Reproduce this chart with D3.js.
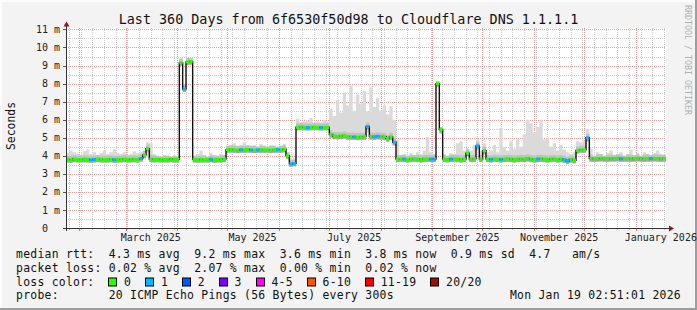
<!DOCTYPE html>
<html lang="en">
<head>
<meta charset="UTF-8">
<script src="https://cdn.jsdelivr.net/npm/d3@7"></script>
<title>smokeping</title>
<style>
  body { margin: 0; background: #f3f3f3; }
  svg text { font-family: "DejaVu Sans Mono", monospace; white-space: pre; }
</style>
</head>
<body>
<svg width="697" height="310"></svg>
<script>
// time window: last 360 days, one sample every 2 days
var startTime = new Date(Date.UTC(2025, 0, 24, 2, 51, 1));
var endTime = new Date(Date.UTC(2026, 0, 19, 2, 51, 1));
var stepDays = 2;

// median rtt (ms)
var median = [
  3.80,3.78,3.82,3.80,3.79,3.81,3.80,3.78,3.80,3.82,3.80,3.79,3.80,3.81,3.78,3.80,3.80,3.82,3.79,3.80,
  3.81,3.80,3.85,4.05,4.40,3.82,3.80,3.81,3.80,3.79,3.80,3.82,3.80,3.80,9.15,7.70,9.20,9.22,3.80,3.78,
  3.80,3.79,3.80,3.81,3.78,3.80,3.80,3.82,4.33,4.35,4.33,4.32,4.34,4.33,4.35,4.33,4.32,4.33,4.34,4.33,
  4.33,4.32,4.34,4.35,4.33,4.36,4.00,3.55,3.57,5.58,5.60,5.58,5.57,5.58,5.60,5.58,5.57,5.58,5.58,5.18,
  5.10,5.08,5.10,5.12,5.07,5.06,5.05,5.04,5.05,5.06,5.62,5.07,5.06,5.08,5.07,5.06,4.95,5.05,4.75,3.82,
  3.83,3.82,3.80,3.82,3.83,3.82,3.80,3.82,3.83,3.82,3.82,8.00,5.45,3.82,3.80,3.82,3.83,3.82,3.80,3.82,
  4.15,3.82,3.83,4.55,3.82,4.28,3.82,3.80,3.83,3.82,3.80,3.82,3.84,3.82,3.80,3.82,3.83,3.82,3.86,3.82,
  3.80,3.82,3.84,3.82,3.80,3.82,3.83,3.80,3.82,3.78,3.72,3.80,3.75,4.30,4.33,4.33,5.00,3.85,3.84,3.85,
  3.86,3.85,3.84,3.85,3.85,3.86,3.84,3.85,3.85,3.84,3.85,3.86,3.85,3.84,3.85,3.85,3.86,3.85,3.84,3.85
];

// highest ping of each step (ms)
var smokeHi = [
  4.15,4.30,4.20,4.10,4.05,4.25,4.35,4.10,4.20,4.05,4.15,4.30,4.10,4.20,4.35,4.15,4.10,4.20,4.05,4.10,
  4.25,4.15,4.20,4.30,4.75,4.70,4.10,4.00,3.95,4.05,4.00,3.95,4.00,3.98,9.40,7.95,9.42,9.42,4.00,4.10,
  4.30,4.05,3.95,4.15,4.05,4.00,4.10,4.05,4.55,4.60,4.70,4.55,4.60,4.75,4.60,4.55,4.60,4.50,4.65,4.55,
  4.50,4.60,4.55,4.50,4.55,4.65,4.20,3.85,3.85,6.05,5.85,5.90,5.95,6.10,5.85,5.90,5.85,6.00,5.90,6.60,
  6.20,7.10,6.40,7.50,6.80,7.90,6.50,7.40,6.90,7.60,6.46,7.80,6.70,7.20,6.50,6.80,6.30,6.75,6.00,4.90,
  4.05,4.10,4.00,4.15,4.05,4.20,4.10,4.30,5.05,4.20,4.10,8.15,5.60,4.10,4.00,4.15,4.10,4.70,4.80,4.30,
  4.40,4.30,4.60,4.90,4.30,4.70,4.20,4.30,4.60,4.20,5.55,4.50,4.30,4.80,4.40,4.90,4.50,5.20,6.00,5.80,
  5.30,5.60,6.00,4.90,5.00,4.50,4.70,4.30,4.60,4.35,4.20,4.10,4.20,4.80,4.75,4.85,5.50,4.40,4.00,4.20,
  4.10,4.00,4.15,4.30,4.05,4.10,4.20,4.00,4.10,4.35,4.05,4.15,4.00,4.20,4.10,4.05,4.15,4.30,4.10,4.05
];

// lowest ping of each step (ms)
var smokeLo = [
  3.62,3.60,3.63,3.62,3.61,3.62,3.63,3.60,3.62,3.63,3.62,3.61,3.62,3.63,3.60,3.62,3.62,3.63,3.61,3.62,
  3.63,3.62,3.65,3.80,3.90,3.64,3.62,3.63,3.62,3.61,3.62,3.63,3.62,3.62,8.95,7.55,9.00,9.02,3.62,3.60,
  3.62,3.61,3.62,3.63,3.60,3.62,3.62,3.63,4.15,4.16,4.15,4.14,4.15,4.15,4.16,4.15,4.14,4.15,4.15,4.15,
  4.14,4.14,4.15,4.16,4.15,4.17,3.80,3.40,3.42,5.40,5.42,5.40,5.39,5.40,5.42,5.40,5.39,5.40,5.40,5.00,
  4.90,4.89,4.90,4.92,4.88,4.87,4.86,4.85,4.86,4.87,5.30,4.88,4.87,4.89,4.88,4.87,4.78,4.86,4.55,3.64,
  3.64,3.63,3.62,3.64,3.64,3.63,3.62,3.63,3.64,3.63,3.63,7.80,5.20,3.63,3.62,3.64,3.64,3.63,3.62,3.63,
  3.95,3.63,3.64,4.30,3.63,4.05,3.63,3.62,3.64,3.63,3.62,3.63,3.65,3.63,3.62,3.63,3.64,3.63,3.66,3.63,
  3.62,3.63,3.65,3.63,3.62,3.63,3.64,3.62,3.63,3.58,3.52,3.60,3.56,4.12,4.15,4.15,4.75,3.66,3.65,3.66,
  3.67,3.66,3.65,3.66,3.66,3.67,3.65,3.66,3.66,3.65,3.66,3.67,3.66,3.65,3.66,3.66,3.67,3.66,3.65,3.66
];

// steps where 1 of 20 pings was lost
var lossSteps = [7, 8, 14, 22, 35, 43, 52, 55, 57, 63, 67, 68, 72, 76, 86, 90, 92, 93, 98,
                 101, 109, 110, 115, 123, 127, 130, 141, 149, 150, 156, 166, 175];

var lossLabels = ["0", "1", "2", "3", "4-5", "6-10", "11-19", "20/20"];
var lossColors = ["#26ff00", "#00b8ff", "#0059ff", "#7e00ff", "#ff00ff", "#ff5500", "#ff0000", "#a01000"];

var rttStats = [["4.3", "ms avg"], ["9.2", "ms max"], ["3.6", "ms min"], ["3.8", "ms now"], ["0.9", "ms sd"], ["4.7", "  am/s"]];
var lossStats = [["0.02", "% avg"], ["2.07", "% max"], ["0.00", "% min"], ["0.02", "% now"]];

var title = "Last 360 Days from 6f6530f50d98 to Cloudflare DNS 1.1.1.1";
var probeText = "20 ICMP Echo Pings (56 Bytes) every 300s";
var stampText = "Mon Jan 19 02:51:01 2026";

var svg = d3.select("svg"),
    width = +svg.attr("width"),
    height = +svg.attr("height");

var plotLeft = 66, plotRight = 666, plotTop = 28, plotBottom = 228;
var yMax = 11.08;

var x = d3.scaleUtc().domain([startTime, endTime]).range([plotLeft, plotRight]);
var y = d3.scaleLinear().domain([0, yMax]).range([plotBottom, plotTop]);

// background + 3d frame
svg.append("rect").attr("width", width).attr("height", height).attr("fill", "#f3f3f3");
svg.append("rect").attr("x", 0).attr("y", 0).attr("width", width).attr("height", 2).attr("fill", "#fcfcfc");
svg.append("rect").attr("x", 0).attr("y", 0).attr("width", 2).attr("height", height).attr("fill", "#fcfcfc");
svg.append("rect").attr("x", 0).attr("y", height - 2).attr("width", width).attr("height", 2).attr("fill", "#9e9e9e");
svg.append("rect").attr("x", width - 2).attr("y", 0).attr("width", 2).attr("height", height).attr("fill", "#9e9e9e");

svg.append("rect")
   .attr("x", plotLeft).attr("y", plotTop)
   .attr("width", plotRight - plotLeft).attr("height", plotBottom - plotTop)
   .attr("fill", "#ffffff");

// grid
var grid = svg.append("g").attr("shape-rendering", "crispEdges").attr("stroke-dasharray", "1,1");
var minorY = d3.range(0.5, 11.01, 1);
var majorY = d3.range(1, 11.01, 1);
var weeks = d3.utcSunday.range(startTime, endTime);
var months = d3.utcMonth.range(startTime, endTime);

grid.selectAll(".gy").data(minorY).enter().append("line")
    .attr("x1", plotLeft).attr("x2", plotRight)
    .attr("y1", function(d) { return Math.round(y(d)) + 0.5; })
    .attr("y2", function(d) { return Math.round(y(d)) + 0.5; })
    .attr("stroke", "#cccccc");
grid.selectAll(".gx").data(weeks).enter().append("line")
    .attr("y1", plotTop).attr("y2", plotBottom)
    .attr("x1", function(d) { return Math.round(x(d)) + 0.5; })
    .attr("x2", function(d) { return Math.round(x(d)) + 0.5; })
    .attr("stroke", "#cccccc");
grid.selectAll(".my").data(majorY).enter().append("line")
    .attr("x1", plotLeft).attr("x2", plotRight)
    .attr("y1", function(d) { return Math.round(y(d)) + 0.5; })
    .attr("y2", function(d) { return Math.round(y(d)) + 0.5; })
    .attr("stroke", "#ec9a9a");
grid.selectAll(".mx").data(months).enter().append("line")
    .attr("y1", plotTop).attr("y2", plotBottom)
    .attr("x1", function(d) { return Math.round(x(d)) + 0.5; })
    .attr("x2", function(d) { return Math.round(x(d)) + 0.5; })
    .attr("stroke", "#ec9a9a");

// data rows
var rows = median.map(function(m, i) {
    return {
        t: d3.utcDay.offset(startTime, i * stepDays),
        t2: d3.utcDay.offset(startTime, (i + 1) * stepDays),
        med: m, lo: smokeLo[i], hi: smokeHi[i],
        lost: lossSteps.indexOf(i) >= 0 ? 1 : 0
    };
});
var stepRows = rows.concat([Object.assign({}, rows[rows.length - 1], {t: endTime})]);

// smoke
svg.append("path").datum(stepRows)
   .attr("fill", "#dadada")
   .attr("d", d3.area().curve(d3.curveStepAfter)
       .x(function(d) { return x(d.t); })
       .y0(function(d) { return y(d.lo); })
       .y1(function(d) { return y(d.hi); }));
svg.append("path").datum(stepRows)
   .attr("fill", "#c2c2c2")
   .attr("d", d3.area().curve(d3.curveStepAfter)
       .x(function(d) { return x(d.t); })
       .y0(function(d) { return y(d.med); })
       .y1(function(d) { return Math.max(y(d.hi), y(d.med) - 4); }));
svg.append("path").datum(stepRows)
   .attr("fill", "#a2a2a2")
   .attr("d", d3.area().curve(d3.curveStepAfter)
       .x(function(d) { return x(d.t); })
       .y0(function(d) { return Math.min(y(d.lo), y(d.med) + 3); })
       .y1(function(d) { return y(d.med); }));

// median line
svg.append("path").datum(stepRows)
   .attr("fill", "none")
   .attr("stroke", "#111111")
   .attr("stroke-width", 1.4)
   .attr("d", d3.line().curve(d3.curveStepAfter)
       .x(function(d) { return x(d.t); })
       .y(function(d) { return y(d.med); }));

// loss coloured median
svg.append("g").selectAll("line").data(rows).enter().append("line")
   .attr("x1", function(d) { return x(d.t); })
   .attr("x2", function(d) { return x(d.t2); })
   .attr("y1", function(d) { return y(d.med); })
   .attr("y2", function(d) { return y(d.med); })
   .attr("stroke", function(d) { return lossColors[d.lost]; })
   .attr("stroke-width", 3);

// axes
var axis = svg.append("g").attr("shape-rendering", "crispEdges");
axis.selectAll(".tk").data(majorY.concat([0])).enter().append("line")
    .attr("x1", plotLeft - 3).attr("x2", plotLeft)
    .attr("y1", function(d) { return Math.round(y(d)) + 0.5; })
    .attr("y2", function(d) { return Math.round(y(d)) + 0.5; })
    .attr("stroke", "#555");
axis.selectAll(".wk").data(weeks).enter().append("line")
    .attr("y1", plotBottom).attr("y2", plotBottom + 2)
    .attr("x1", function(d) { return Math.round(x(d)) + 0.5; })
    .attr("x2", function(d) { return Math.round(x(d)) + 0.5; })
    .attr("stroke", "#bbbbbb");
axis.selectAll(".mo").data(months).enter().append("line")
    .attr("y1", plotBottom).attr("y2", plotBottom + 3)
    .attr("x1", function(d) { return Math.round(x(d)) + 0.5; })
    .attr("x2", function(d) { return Math.round(x(d)) + 0.5; })
    .attr("stroke", "#e07070");
axis.append("line")
    .attr("x1", plotLeft + 0.5).attr("x2", plotLeft + 0.5)
    .attr("y1", plotBottom + 3).attr("y2", plotTop - 3)
    .attr("stroke", "#333");
axis.append("line")
    .attr("x1", plotLeft - 3).attr("x2", plotRight + 4)
    .attr("y1", plotBottom + 0.5).attr("y2", plotBottom + 0.5)
    .attr("stroke", "#333");
svg.append("path")
   .attr("d", "M" + (plotLeft + 0.5) + "," + (plotTop - 6.5) + "l3,5h-6z")
   .attr("fill", "#8b1a1a");
svg.append("path")
   .attr("d", "M" + (plotRight + 8) + "," + (plotBottom + 0.5) + "l-5,-3v6z")
   .attr("fill", "#8b1a1a");

// y labels
svg.append("g").selectAll("text").data(d3.range(0, 12)).enter().append("text")
   .attr("x", 60)
   .attr("y", function(d) { return y(d) + 3.6; })
   .attr("text-anchor", "end")
   .style("font-size", "10px")
   .attr("fill", "#222")
   .text(function(d) { return d === 0 ? "0  " : d + " m"; });

// x labels, centred half a month after each tick
var labelMonths = d3.utcMonth.every(2).range(startTime, endTime);
svg.append("g").selectAll("text").data(labelMonths).enter().append("text")
   .attr("x", function(d) { return x(d3.utcDay.offset(d, 15)); })
   .attr("y", 240.5)
   .attr("text-anchor", "middle")
   .style("font-size", "10px")
   .attr("fill", "#222")
   .text(d3.utcFormat("%B %Y"));

// title and side texts
svg.append("text")
   .attr("x", width / 2).attr("y", 24)
   .attr("text-anchor", "middle")
   .style("font-size", "13.4px")
   .attr("fill", "#111")
   .text(title);

svg.append("text")
   .attr("transform", "translate(15,126) rotate(-90)")
   .attr("text-anchor", "middle")
   .style("font-size", "11.4px")
   .attr("fill", "#111")
   .text("Seconds");

svg.append("text")
   .attr("transform", "translate(685,5) rotate(90)")
   .style("font-size", "8.3px")
   .attr("fill", "#b0b0b0")
   .text("RRDTOOL / TOBI OETIKER");

// legend
var legendFont = { size: "11.4px", spacing: "0.27px" };
var charW = 7.13;
var legendX = 16;
var rowY = [258.3, 271.8, 285.5, 299];

function legendText(str, xPos, yPos, anchor) {
    return svg.append("text")
        .attr("x", xPos).attr("y", yPos)
        .attr("text-anchor", anchor || "start")
        .style("font-size", legendFont.size)
        .style("letter-spacing", legendFont.spacing)
        .attr("fill", "#111")
        .text(str);
}

legendText("median rtt:  " + rttStats.map(function(s) { return s[0] + " " + s[1]; }).join("  "), legendX, rowY[0]);
legendText("packet loss: " + lossStats.map(function(s) { return s[0] + " " + s[1]; }).join("  "), legendX, rowY[1]);
legendText("loss color:", legendX, rowY[2]);

var bx = legendX + 13 * charW - 0.3;
lossLabels.forEach(function(lab, i) {
    svg.append("rect")
       .attr("x", Math.round(bx) + 0.5).attr("y", rowY[2] - 7.5)
       .attr("width", 8).attr("height", 8)
       .attr("fill", lossColors[i])
       .attr("stroke", "#000");
    legendText(lab, bx + 15.7, rowY[2]);
    bx = bx + 15.7 + lab.length * charW + 14;
});

legendText("probe:       " + probeText, legendX, rowY[3]);
legendText(stampText, 681, rowY[3], "end");
</script>
</body>
</html>
